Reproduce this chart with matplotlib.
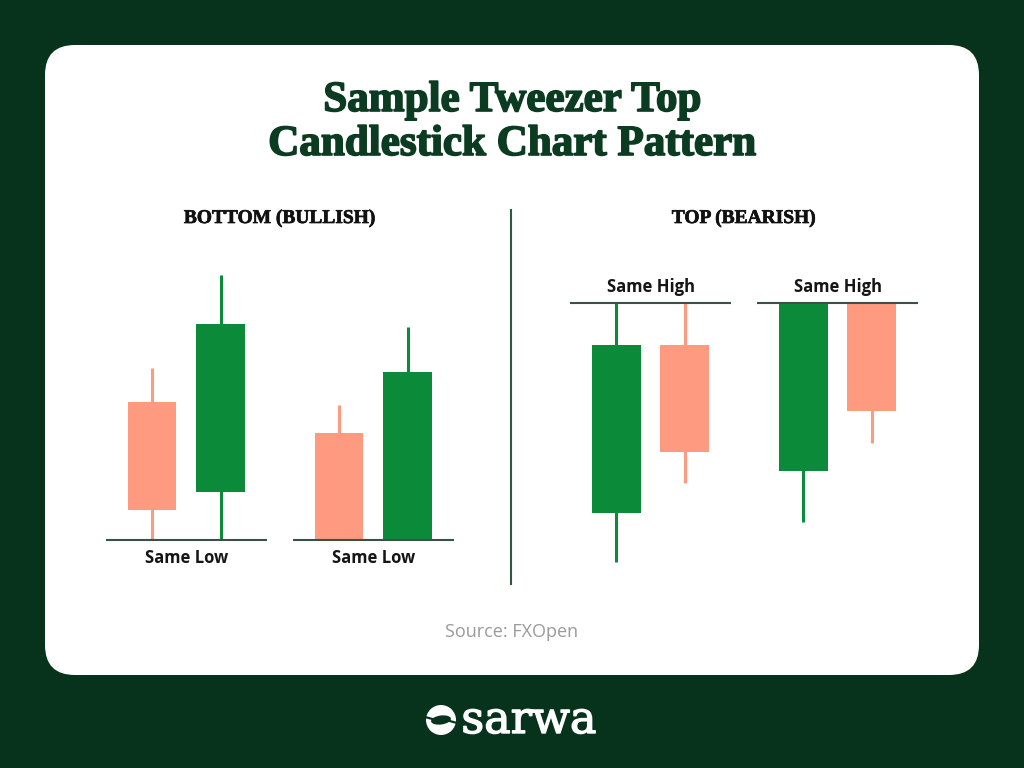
import matplotlib.pyplot as plt
import matplotlib.patheffects as pe
from matplotlib.patches import FancyBboxPatch, Circle, Ellipse

# candle data (open, close, high, low) -- arbitrary price units
x_pos = [0, 1, 2.73, 3.73]

bull_open = [13.8, 4.8, 10.7, 0.0]
bull_close = [3.0, 21.6, 0.0, 16.8]
bull_high = [17.2, 26.5, 13.5, 21.3]
bull_low = [0.0, 0.0, 0.0, 0.0]

bear_open = [9.0, 25.8, 13.2, 30.0]
bear_close = [25.8, 15.1, 30.0, 19.2]
bear_high = [30.0, 30.0, 30.0, 30.0]
bear_low = [4.1, 12.0, 8.1, 16.0]

same_low = 0.0
same_high = 30.0

BG = '#07331c'
TITLE = '#0b3b20'
GREEN = '#0b8b3a'
SALMON = '#fe9a80'
LEVEL = '#3b5046'

W, H = 1024, 768
fig = plt.figure(figsize=(W / 100, H / 100), dpi=100)
fig.patch.set_facecolor(BG)

# background axes in pixel coords for the card / decoration
bg = fig.add_axes([0, 0, 1, 1])
bg.set_xlim(0, W); bg.set_ylim(H, 0)
bg.axis('off')
bg.add_patch(FancyBboxPatch((75, 75), 874, 570, boxstyle='round,pad=30',
                            fc='white', ec='none'))
bg.plot([511, 511], [210, 584], color='#2e5a41', lw=1.5)

serif = 'Liberation Serif'
heavy = [pe.withStroke(linewidth=1.2, foreground=TITLE)]
bg.text(512, 111, 'Sample Tweezer Top', ha='center', va='baseline',
        family=serif, weight='bold', fontsize=31, color=TITLE,
        path_effects=heavy)
bg.text(512, 155, 'Candlestick Chart Pattern', ha='center', va='baseline',
        family=serif, weight='bold', fontsize=31, color=TITLE,
        path_effects=heavy)
bg.text(280, 223, 'BOTTOM (BULLISH)', ha='center', va='baseline',
        family=serif, weight='bold', fontsize=14, color='#111111',
        path_effects=[pe.withStroke(linewidth=0.5, foreground='#111111')])
bg.text(744, 223, 'TOP (BEARISH)', ha='center', va='baseline',
        family=serif, weight='bold', fontsize=14, color='#111111',
        path_effects=[pe.withStroke(linewidth=0.5, foreground='#111111')])
bg.text(512, 637, 'Source: FXOpen', ha='center', va='baseline',
        family='Open Sans', fontsize=13, color='#9a9a9a')

# sarwa logo
bg.add_patch(Circle((441, 720), 15, fc='white', ec='none'))
bg.add_patch(Ellipse((441, 720), 20, 9, angle=-8, fc=BG, ec='none'))
bg.plot([425, 436], [717, 720], color=BG, lw=1.6)
bg.plot([446, 457], [720, 723], color=BG, lw=1.6)
bg.text(529, 733, 'sarwa', ha='center', va='baseline',
        family='DejaVu Serif', fontsize=32, color='white',
        path_effects=[pe.withStroke(linewidth=1, foreground='white')])


def draw_panel(left_px, ylim, opens, closes, highs, lows, level, label, above):
    ax = fig.add_axes([left_px / W, 1 - 580 / H, 411 / W, 320 / H])
    ax.set_xlim(-1, 5)
    ax.set_ylim(*ylim)
    ax.axis('off')
    cols = [GREEN if c > o else SALMON for o, c in zip(opens, closes)]
    ax.vlines(x_pos, lows, highs, colors=cols, lw=2.2, zorder=1)
    ax.bar(x_pos, [c - o for o, c in zip(opens, closes)], bottom=opens,
           width=0.715, color=cols, zorder=2)
    for a, b in [(0, 1), (2, 3)]:
        x0, x1 = x_pos[a] - 0.675, x_pos[b] + 0.675
        ax.hlines(level, x0, x1, color=LEVEL, lw=1.5, zorder=3)
        off = 8 if above else -16.7
        ax.annotate(label, xy=((x0 + x1) / 2, level), xytext=(0, off),
                    textcoords='offset points', ha='center', va='baseline',
                    family='Open Sans', weight='bold', fontsize=12,
                    color='#151515')
    return ax


draw_panel(83.5, (-4.05, 27.95), bull_open, bull_close, bull_high, bull_low,
           same_low, 'Same Low', False)
draw_panel(547.8, (2.27, 34.27), bear_open, bear_close, bear_high, bear_low,
           same_high, 'Same High', True)

fig.savefig('out.png', dpi=100, facecolor=BG)
